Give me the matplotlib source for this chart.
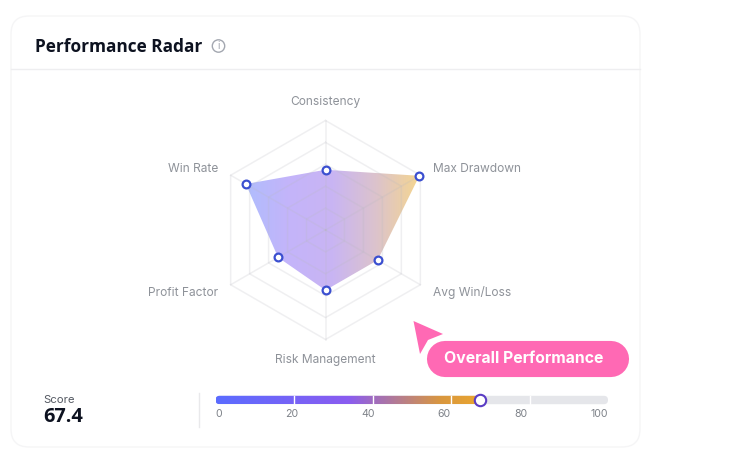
import numpy as np
import matplotlib
matplotlib.use("Agg")
import matplotlib.pyplot as plt
from matplotlib.colors import LinearSegmentedColormap
from matplotlib.patches import Circle, FancyBboxPatch, Polygon

W, H = 748, 459

# chart data
axis_names = ["Consistency", "Max Drawdown", "Avg Win/Loss", "Risk Management", "Profit Factor", "Win Rate"]
axis_scores = [55, 99, 55, 55, 50, 84]
ring_levels = [20, 40, 60, 80, 100]
score_value = 67.4
scale_ticks = [0, 20, 40, 60, 80, 100]

plt.rcParams["font.family"] = ["Inter", "DejaVu Sans"]
HEAD_FONT = ["Open Sans", "DejaVu Sans"]

fig = plt.figure(figsize=(W / 100, H / 100), dpi=100, facecolor="white")


def px_axes(x0, y0, x1, y1):
    # axes placed with the reference's pixel box
    return fig.add_axes([x0 / W, 1 - y1 / H, (x1 - x0) / W, (y1 - y0) / H])


# page layer, in pixels
page = px_axes(0, 0, W, H)
page.set_xlim(0, W)
page.set_ylim(H, 0)
page.axis("off")

page.add_patch(FancyBboxPatch((11, 16), 629, 431, boxstyle="round,pad=0,rounding_size=18",
                              fc="white", ec="#f5f5f6", lw=1))
page.plot([11, 640], [68.5, 68.5], color="#eeeef0", lw=1)
page.text(35, 47, "Performance Radar", fontsize=12.4, fontweight="bold", color="#0d1220",
          family=HEAD_FONT, va="center")
page.add_patch(Circle((218.5, 46), 6.2, fc="white", ec="#a3a7b0", lw=1))
page.text(218.5, 46, "i", fontsize=7.5, color="#a3a7b0", ha="center", va="center")

# radar, 100 units = 109.5 px
radar = px_axes(325.5 - 150, 230 - 150, 325.5 + 150, 230 + 150)
radar.axis("off")
radar.patch.set_alpha(0)

angles = np.pi / 2 - np.arange(len(axis_names)) * 2 * np.pi / len(axis_names)
xs = np.array(axis_scores) * np.cos(angles)
ys = np.array(axis_scores) * np.sin(angles)

fill_cmap = LinearSegmentedColormap.from_list("fill", ["#b0bdfd", "#c4b4fa", "#c9b5f3", "#dcc3cc", "#f5d68f"])
grad = np.linspace(0, 1, 256).reshape(1, -1)
img = radar.imshow(grad, extent=[xs.min(), xs.max(), -100, 100], cmap=fill_cmap, aspect="auto", zorder=1)
shape = Polygon(np.column_stack([xs, ys]), closed=True, fc="none", ec="none", transform=radar.transData)
radar.add_patch(shape)
img.set_clip_path(shape)
radar.set_xlim(-150 / 1.095, 150 / 1.095)
radar.set_ylim(-150 / 1.095, 150 / 1.095)

for level in ring_levels:
    rx = level * np.cos(angles)
    ry = level * np.sin(angles)
    radar.plot(np.append(rx, rx[0]), np.append(ry, ry[0]), color="#b9b9c0", alpha=0.22, lw=1.1, zorder=2)
for a in angles:
    radar.plot([0, 100 * np.cos(a)], [0, 100 * np.sin(a)], color="#b9b9c0", alpha=0.22, lw=1.1, zorder=2)

radar.plot(xs, ys, ls="none", marker="o", ms=5.6, mfc="white", mec="#3b4fd0", mew=1.6, zorder=3, clip_on=False)

# label spots around the hexagon, in pixels
label_spots = [(325.5, 101.5, "center"), (433, 168.5, "left"), (433, 292.5, "left"),
               (325.5, 360.5, "center"), (218, 292.5, "right"), (218, 168.5, "right")]
for name, (lx, ly, ha) in zip(axis_names, label_spots):
    page.text(lx, ly, name, fontsize=8.6, color="#8e9299", ha=ha, va="center")

# score block
page.text(43, 400, "Score", fontsize=8.2, color="#555a63", va="center")
page.text(43, 417, f"{score_value}", fontsize=14.4, fontweight="bold", color="#0d1220", va="center",
          family=HEAD_FONT)
page.plot([199, 199], [393, 427], color="#e9e9eb", lw=1)

# score scale, 0 to 100 across the track
bar = px_axes(215.5, 394, 608, 406)
bar.axis("off")
bar.patch.set_alpha(0)

track = FancyBboxPatch((0, 0.15), 100, 0.7, boxstyle="round,pad=0,rounding_size=1.05",
                       fc="#e5e6ea", ec="none", mutation_aspect=3.925 / 12)
bar.add_patch(track)
bar_cmap = LinearSegmentedColormap.from_list(
    "bar", [(0, "#5b6cff"), (0.5, "#8a5cf0"), (0.85, "#d9973f"), (1, "#eaa62f")])
bar_img = bar.imshow(np.linspace(0, 1, 256).reshape(1, -1), extent=[0, score_value, 0.15, 0.85],
                     cmap=bar_cmap, aspect="auto", zorder=2)
bar_img.set_clip_path(track)
bar.set_xlim(0, 100)
bar.set_ylim(0, 1)
for t in scale_ticks[1:-1]:
    bar.plot([t, t], [0.15, 0.85], color="white", lw=1, zorder=3)
bar.plot([score_value], [0.5], marker="o", ms=8.2, mfc="white", mec="#5a3cc4", mew=1.5, zorder=5, clip_on=False)

# tick labels are spread evenly edge to edge in the reference
widths = [len(str(t)) * 5.6 for t in scale_ticks]
gap = (392.5 - sum(widths)) / (len(scale_ticks) - 1)
pos = 215.5
for t, w in zip(scale_ticks, widths):
    page.text(pos + w / 2, 414, str(t), fontsize=7.6, color="#7d8188", ha="center", va="center")
    pos += w + gap

# callout
page.add_patch(Polygon([(413.5, 321), (443, 334), (428, 340), (420, 354)], closed=True, fc="#ff69b4", ec="none", zorder=6))
page.plot([445, 611], [359, 359], color="white", lw=28, solid_capstyle="round", zorder=7)
page.plot([445, 611], [359, 359], color="#ff69b4", lw=26, solid_capstyle="round", zorder=7)
page.text(524, 358.5, "Overall Performance", fontsize=11.35, fontweight="bold", color="white",
          ha="center", va="center", zorder=8)

fig.savefig("out.png", dpi=100)
